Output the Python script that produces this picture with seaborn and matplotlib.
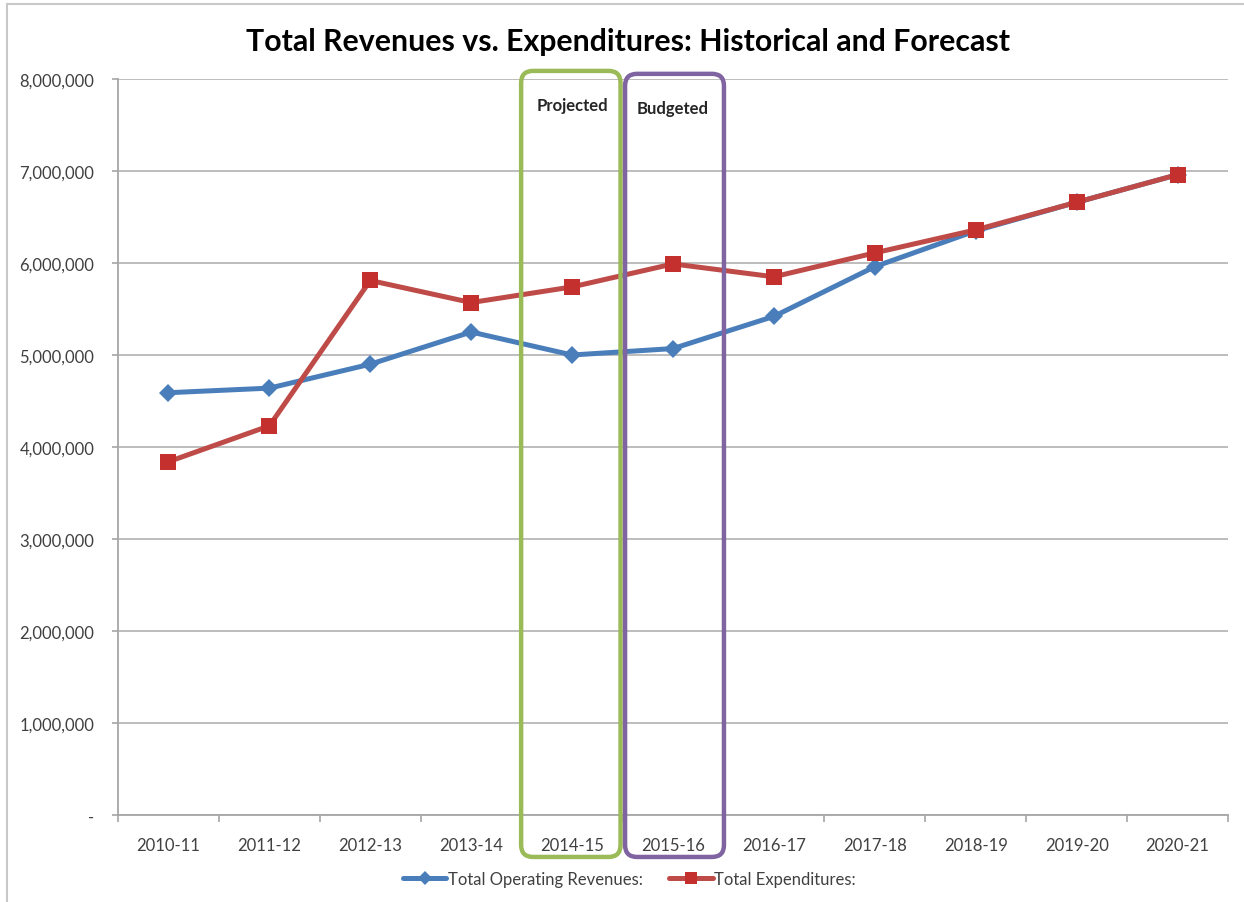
import matplotlib
matplotlib.use("Agg")
import matplotlib.pyplot as plt
import matplotlib.ticker as mticker
from matplotlib.patches import FancyBboxPatch, Rectangle
from matplotlib.lines import Line2D
from matplotlib.transforms import IdentityTransform
import numpy as np
import pandas as pd
import seaborn as sns

# Fiscal years shown on the category axis
years = ["2010-11", "2011-12", "2012-13", "2013-14", "2014-15", "2015-16",
         "2016-17", "2017-18", "2018-19", "2019-20", "2020-21"]

# Annual totals (dollars)
revenues = [4590000, 4640000, 4900000, 5250000, 5000000, 5070000,
            5420000, 5960000, 6350000, 6660000, 6960000]
expenditures = [3840000, 4230000, 5810000, 5570000, 5740000, 5990000,
                5850000, 6110000, 6360000, 6660000, 6960000]

series_names = ["Total Operating Revenues:", "Total Expenditures:"]
y_ticks = [0, 1000000, 2000000, 3000000, 4000000, 5000000, 6000000, 7000000, 8000000]

# Highlighted periods
highlights = [("2014-15", "Projected"), ("2015-16", "Budgeted")]

df = pd.DataFrame({
    "year": years * 2,
    "value": revenues + expenditures,
    "series": [series_names[0]] * len(years) + [series_names[1]] * len(years),
})

sns.set_theme(style="white")
plt.rcParams["font.family"] = ["Lato", "DejaVu Sans"]

BLUE = "#4A7EBB"
RED = "#BE4B48"
RED_MK = "#C4302E"
GRID = "#BDBDBD"
FONT_COLOR = "#404040"

fig = plt.figure(figsize=(12.44, 9.03), dpi=100)
ax = fig.add_axes([118 / 1244, 1 - 816 / 903, (1228 - 118) / 1244, (816 - 80) / 903])

palette = {series_names[0]: BLUE, series_names[1]: RED}
markers = {series_names[0]: "D", series_names[1]: "s"}
sns.lineplot(data=df, x="year", y="value", hue="series", style="series",
             palette=palette, markers=markers, dashes=False, linewidth=3.6,
             markersize=10, markeredgewidth=0, sort=False, legend=False,
             ax=ax, zorder=3)

# Diamond markers a touch smaller, square markers in a deeper red
for ln in ax.get_lines():
    if ln.get_marker() == "D":
        ln.set_markersize(9.5)
        ln.set_markerfacecolor(BLUE)
    elif ln.get_marker() == "s":
        ln.set_markersize(11.5)
        ln.set_markerfacecolor(RED_MK)
        ln.set_zorder(4)

ax.set_xlim(-0.5, len(years) - 0.5)
ax.set_ylim(0, 8000000)
ax.set_yticks(y_ticks)
ax.yaxis.set_major_formatter(mticker.FuncFormatter(
    lambda v, p: "-" if v == 0 else f"{v:,.0f}"))
ax.grid(axis="y", color=GRID, linewidth=1.4)
ax.grid(axis="x", visible=False)
ax.set_xlabel("")
ax.set_ylabel("")

for side in ["top", "right"]:
    ax.spines[side].set_visible(False)
for side in ["left", "bottom"]:
    ax.spines[side].set_color("#A6A6A6")
    ax.spines[side].set_linewidth(1.3)

ax.tick_params(axis="y", which="major", length=4, width=1.2, color="#A6A6A6",
               direction="out", left=True, pad=13, labelsize=12, labelcolor=FONT_COLOR)
ax.tick_params(axis="x", which="major", length=0, pad=16, labelsize=12,
               labelcolor=FONT_COLOR)
ax.set_xticks(np.arange(-0.5, len(years) + 0.5, 1.0), minor=True)
ax.tick_params(axis="x", which="minor", length=5, width=1.2, color="#A6A6A6",
               direction="out", bottom=True)

fig.suptitle("Total Revenues vs. Expenditures: Historical and Forecast",
             x=0.505, y=1 - 42 / 903, va="center", fontsize=21.8,
             fontweight="bold", color="black")

# Rounded boxes around the projected and budgeted years
fig.canvas.draw()
box_colors = {"Projected": "#9BBB59", "Budgeted": "#8064A2"}
box_offsets = {"Projected": (-0.505, 0.48, 1.011), "Budgeted": (-0.475, 0.505, 1.007)}
label_y = {"Projected": 0.965, "Budgeted": 0.961}
for yr, label in highlights:
    i = years.index(yr)
    lo, hi, top = box_offsets[label]
    x0, _ = ax.transData.transform((i + lo, 0))
    x1, _ = ax.transData.transform((i + hi, 0))
    _, y0 = ax.transAxes.transform((0, -0.057))
    _, y1 = ax.transAxes.transform((0, top))
    patch = FancyBboxPatch((x0 + 12, y0 + 12), (x1 - x0) - 24, (y1 - y0) - 24,
                           boxstyle="round,pad=12", transform=IdentityTransform(),
                           facecolor="none", edgecolor=box_colors[label],
                           linewidth=3.2, clip_on=False, zorder=5)
    fig.patches.append(patch)
    ax.text(i, label_y[label], label, transform=ax.get_xaxis_transform(),
            ha="center", va="center", fontsize=12, fontweight="bold",
            color="#262626", zorder=6)

# Legend below the axis
handles = [
    Line2D([], [], color=BLUE, linewidth=3.6, marker="D", markersize=7,
           markeredgewidth=0),
    Line2D([], [], color=RED, linewidth=3.6, marker="s", markersize=9,
           markerfacecolor=RED_MK, markeredgewidth=0),
]
fig.legend(handles, series_names, loc="center", bbox_to_anchor=(0.506, 1 - 880 / 903),
           ncol=2, frameon=False, fontsize=12, handlelength=2.6,
           handletextpad=0.1, columnspacing=1.6, labelcolor=FONT_COLOR)

# Thin chart-area border along the top and left edges
fig.patches.append(Rectangle((7 / 1244, -0.01), 1.02, 1 - 5 / 903 + 0.01,
                             transform=fig.transFigure, facecolor="none",
                             edgecolor="#C8C8C8", linewidth=1.5, zorder=0))

fig.savefig("out.png", dpi=100, facecolor="white")
